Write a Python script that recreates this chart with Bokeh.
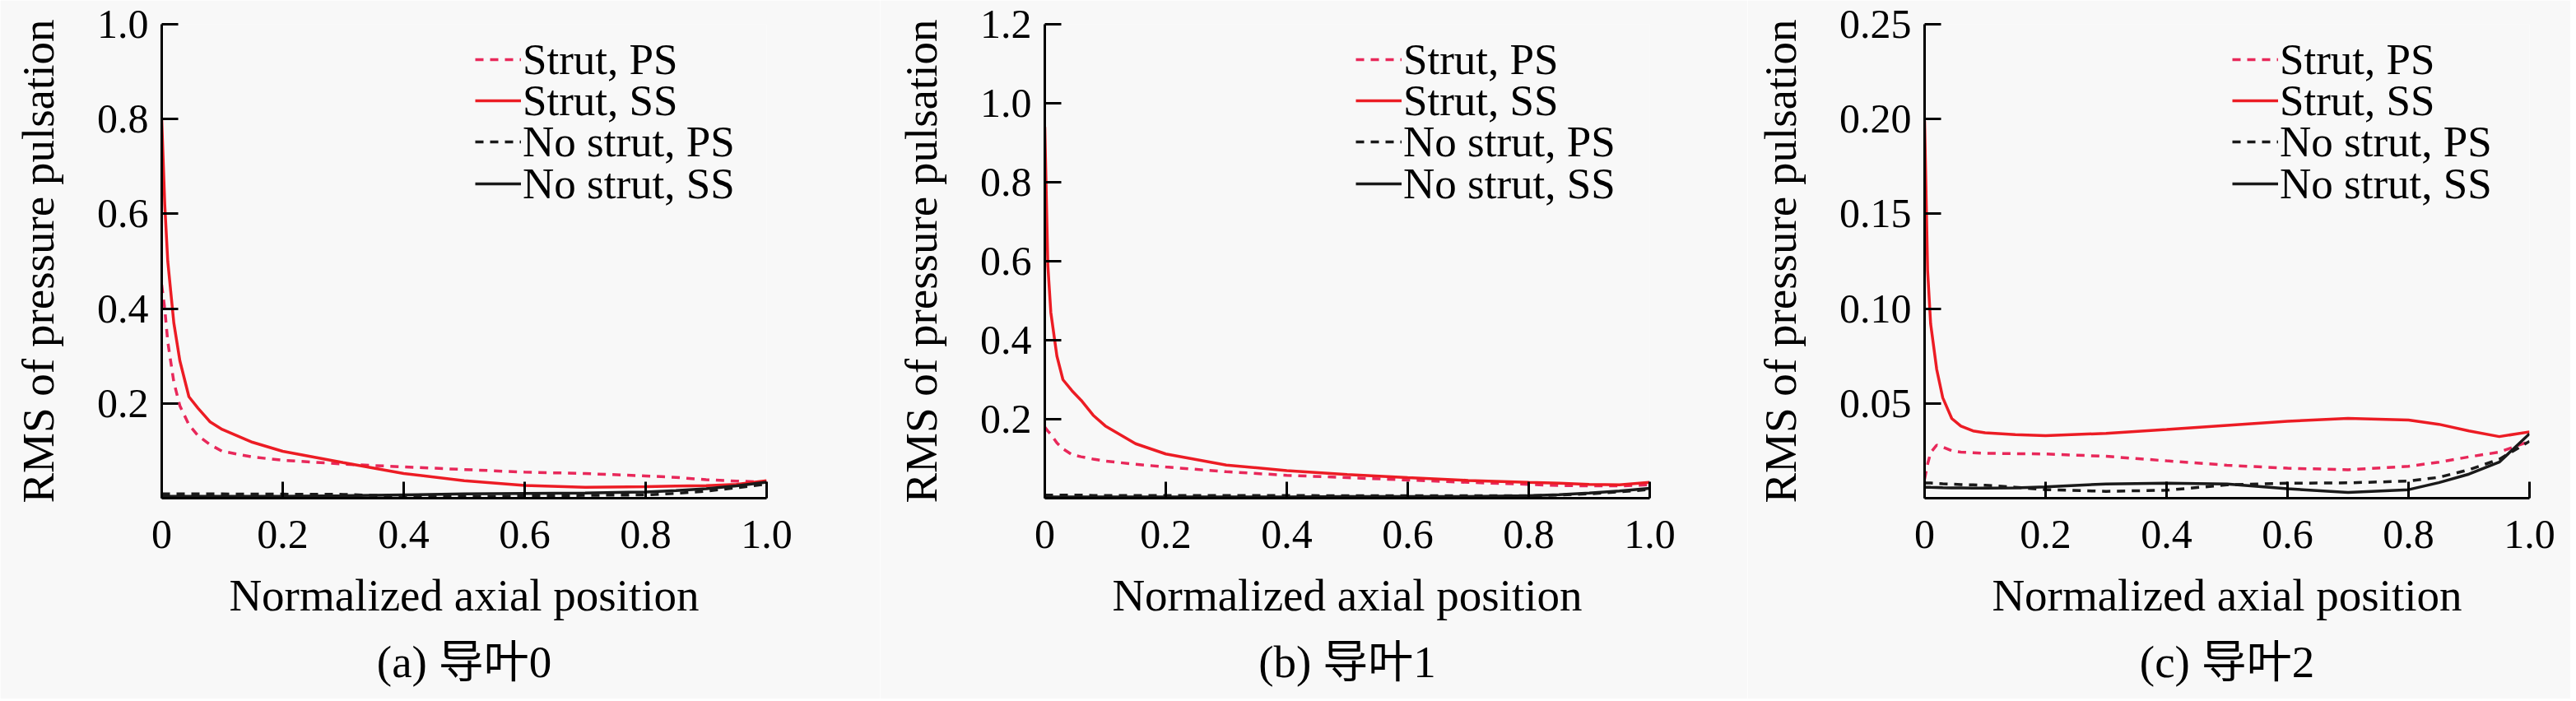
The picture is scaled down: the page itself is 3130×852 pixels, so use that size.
from bokeh.plotting import figure
from bokeh.models import Legend, Range1d, FixedTicker, Title
from bokeh.layouts import row
from bokeh.embed import file_html
from bokeh.resources import INLINE

# normalized axial positions used for every curve
positions = [0, 0.005, 0.01, 0.02, 0.03, 0.045, 0.06, 0.08, 0.1, 0.15, 0.2, 0.3, 0.4, 0.5, 0.6, 0.7, 0.8, 0.85, 0.9, 0.95, 1.0]

# (a) guide vane 0
strutPs0 = [0.45, 0.40, 0.33, 0.245, 0.195, 0.155, 0.132, 0.113, 0.099, 0.087, 0.080, 0.072, 0.066, 0.0605, 0.055, 0.052, 0.047, 0.044, 0.039, 0.036, 0.034]
strutSs0 = [0.80, 0.62, 0.50, 0.37, 0.29, 0.214, 0.19, 0.161, 0.145, 0.118, 0.099, 0.075, 0.052, 0.037, 0.027, 0.023, 0.0245, 0.0257, 0.0265, 0.029, 0.037]
noStrutPs0 = [0.009, 0.009, 0.009, 0.009, 0.009, 0.009, 0.009, 0.009, 0.009, 0.0085, 0.0085, 0.008, 0.004, 0.003, 0.005, 0.006, 0.007, 0.010, 0.015, 0.022, 0.030]
noStrutSs0 = [0.004, 0.004, 0.004, 0.004, 0.004, 0.004, 0.004, 0.004, 0.004, 0.004, 0.004, 0.005, 0.007, 0.009, 0.010, 0.011, 0.013, 0.016, 0.020, 0.026, 0.034]

# (b) guide vane 1
strutPs1 = [0.18, 0.17, 0.162, 0.14, 0.125, 0.11, 0.105, 0.099, 0.094, 0.086, 0.079, 0.067, 0.058, 0.052, 0.046, 0.040, 0.035, 0.032, 0.031, 0.031, 0.034]
strutSs1 = [0.94, 0.59, 0.47, 0.36, 0.30, 0.272, 0.248, 0.21, 0.183, 0.138, 0.112, 0.084, 0.070, 0.060, 0.052, 0.045, 0.040, 0.038, 0.035, 0.034, 0.040]
noStrutPs1 = [0.008, 0.008, 0.008, 0.008, 0.008, 0.008, 0.008, 0.007, 0.007, 0.007, 0.007, 0.007, 0.007, 0.006, 0.006, 0.006, 0.006, 0.008, 0.011, 0.016, 0.022]
noStrutSs1 = [0.003, 0.003, 0.003, 0.003, 0.003, 0.003, 0.003, 0.003, 0.003, 0.003, 0.003, 0.003, 0.003, 0.004, 0.004, 0.004, 0.006, 0.009, 0.013, 0.018, 0.025]

# (c) guide vane 2
strutPs2 = [0.010, 0.018, 0.024, 0.028, 0.027, 0.025, 0.0243, 0.024, 0.0237, 0.0235, 0.0233, 0.0221, 0.0197, 0.0174, 0.0158, 0.0150, 0.0168, 0.0190, 0.0218, 0.0243, 0.030]
strutSs2 = [0.199, 0.12, 0.092, 0.068, 0.053, 0.042, 0.038, 0.0355, 0.0345, 0.0335, 0.0330, 0.0342, 0.0362, 0.0384, 0.0406, 0.0421, 0.0412, 0.0390, 0.0355, 0.0325, 0.035]
noStrutPs2 = [0.008, 0.008, 0.008, 0.0078, 0.0076, 0.0074, 0.0072, 0.007, 0.0068, 0.0058, 0.0045, 0.0036, 0.0042, 0.007, 0.0079, 0.0081, 0.009, 0.011, 0.015, 0.0205, 0.030]
noStrutSs2 = [0.0058, 0.0058, 0.0057, 0.0056, 0.0055, 0.0054, 0.0054, 0.0053, 0.0053, 0.0054, 0.006, 0.0075, 0.0079, 0.0075, 0.005, 0.003, 0.0045, 0.0082, 0.0127, 0.019, 0.034]

seriesNames = ["Strut, PS", "Strut, SS", "No strut, PS", "No strut, SS"]

xTicks = [0, 0.2, 0.4, 0.6, 0.8, 1.0]
xTickLabels = ["0", "0.2", "0.4", "0.6", "0.8", "1.0"]

yTicks0 = [0.2, 0.4, 0.6, 0.8, 1.0]
yTickLabels0 = ["0.2", "0.4", "0.6", "0.8", "1.0"]
yTicks1 = [0.2, 0.4, 0.6, 0.8, 1.0, 1.2]
yTickLabels1 = ["0.2", "0.4", "0.6", "0.8", "1.0", "1.2"]
yTicks2 = [0.05, 0.10, 0.15, 0.20, 0.25]
yTickLabels2 = ["0.05", "0.10", "0.15", "0.20", "0.25"]

captions = ["(a) 导叶0", "(b) 导叶1", "(c) 导叶2"]

serif = "'Liberation Serif', 'Noto Sans CJK SC'"
background = "#f8f8f8"
red = "#ec1c24"
pink = "#e8285a"
black = "#1a1a1a"

# one legend per row, rows 50 px apart (pixels above the bottom of the frame)
legendRows = [503, 453, 403, 352]


def makePanel(strutPs, strutSs, noStrutPs, noStrutSs, yTicks, yTickLabels, caption, borderLeft, borderRight, legendX):

	p = figure(frame_width=735, frame_height=576, x_range=Range1d(0, 1), y_range=Range1d(0, yTicks[-1]),
		min_border_left=borderLeft, min_border_right=borderRight, min_border_top=29, min_border_bottom=239,
		background_fill_color=background, border_fill_color=background, outline_line_color=None,
		output_backend="svg", toolbar_location=None)
	p.grid.visible = False

	for axis in (p.xaxis[0], p.yaxis[0]):
		axis.axis_line_width = 3
		axis.axis_line_color = "black"
		axis.major_tick_line_width = 3
		axis.major_tick_line_color = "black"
		axis.major_tick_in = 20
		axis.major_tick_out = 0
		axis.minor_tick_line_color = None
		axis.major_label_text_font = serif
		axis.major_label_text_font_size = "50px"
		axis.major_label_text_color = "black"
		axis.axis_label_text_font = serif
		axis.axis_label_text_font_size = "55px"
		axis.axis_label_text_font_style = "normal"
		axis.axis_label_text_color = "black"

	p.xaxis.ticker = FixedTicker(ticks=xTicks)
	p.xaxis.major_label_overrides = dict(zip(xTicks, xTickLabels))
	p.xaxis.axis_label = "Normalized axial position"
	p.xaxis.major_label_standoff = 27
	p.xaxis.axis_label_standoff = 24

	p.yaxis.ticker = FixedTicker(ticks=yTicks)
	p.yaxis.major_label_overrides = dict(zip(yTicks, yTickLabels))
	p.yaxis.axis_label = "RMS of pressure pulsation"
	p.yaxis.major_label_standoff = 16
	p.yaxis.axis_label_standoff = 38

	rPs = p.line(positions, strutPs, line_color=pink, line_width=3.5, line_dash="10 8")
	rSs = p.line(positions, strutSs, line_color=red, line_width=3.5)
	rNoPs = p.line(positions, noStrutPs, line_color=black, line_width=3.5, line_dash="10 8")
	rNoSs = p.line(positions, noStrutSs, line_color=black, line_width=3.5)

	for name, renderer, rowY in zip(seriesNames, [rPs, rSs, rNoPs, rNoSs], legendRows):
		legend = Legend(items=[(name, [renderer])], location=(legendX, rowY), padding=0, margin=0,
			glyph_width=56, glyph_height=20, label_standoff=2,
			border_line_color=None, background_fill_alpha=0,
			label_text_font=serif, label_text_font_size="53px", label_text_color="black")
		p.add_layout(legend)

	p.add_layout(Title(text=caption, align="center", text_font=serif, text_font_size="55px",
		text_font_style="normal", text_color="black", standoff=30), "below")

	return p


panelA = makePanel(strutPs0, strutSs0, noStrutPs0, noStrutSs0, yTicks0, yTickLabels0, captions[0], 196, 138, 381)
panelB = makePanel(strutPs1, strutSs1, noStrutPs1, noStrutSs1, yTicks1, yTickLabels1, captions[1], 200, 119, 378)
panelC = makePanel(strutPs2, strutSs2, noStrutPs2, noStrutSs2, yTicks2, yTickLabels2, captions[2], 215, 50, 374)

page = row(panelA, panelB, panelC)

open("out.html", "w").write(file_html(page, INLINE))
